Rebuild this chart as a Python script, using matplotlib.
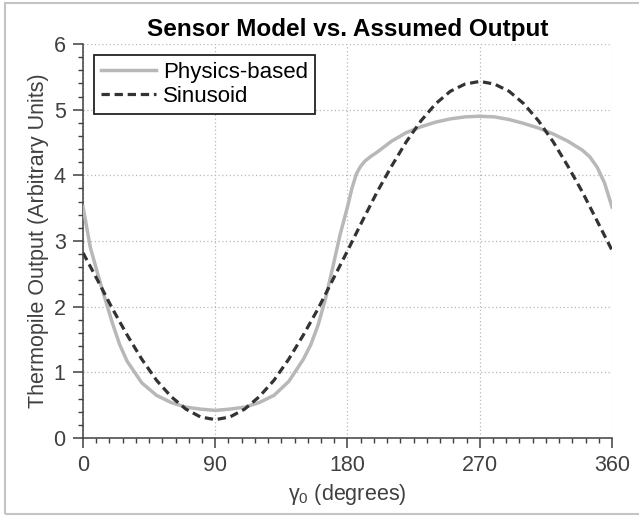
import matplotlib
matplotlib.use("Agg")
import matplotlib.pyplot as plt
from matplotlib.patches import Rectangle
from matplotlib.ticker import MultipleLocator

plt.rcParams['font.family'] = ['Liberation Sans', 'DejaVu Sans']
plt.rcParams['mathtext.default'] = 'regular'

# Angle (degrees) and the two curves
angle_phys = [0, 5, 10, 15, 20, 25, 30, 40, 50, 60, 70, 80, 90, 100, 110, 120,
              130, 140, 150, 155, 160, 165, 170, 175, 180, 183, 186, 189, 192,
              196, 200, 210, 220, 230, 240, 250, 260, 270, 280, 290, 300, 310,
              320, 330, 340, 345, 350, 355, 360]
physics = [3.52, 2.90, 2.50, 2.12, 1.75, 1.42, 1.17, 0.84, 0.65, 0.54, 0.47,
           0.44, 0.42, 0.44, 0.47, 0.54, 0.65, 0.86, 1.20, 1.42, 1.72, 2.12,
           2.60, 3.10, 3.52, 3.80, 4.02, 4.14, 4.22, 4.29, 4.35, 4.52, 4.65,
           4.74, 4.81, 4.86, 4.89, 4.90, 4.89, 4.85, 4.79, 4.72, 4.63, 4.52,
           4.38, 4.28, 4.12, 3.88, 3.52]

angle_sin = [0, 10, 20, 30, 40, 50, 60, 70, 80, 90, 100, 110, 120, 130, 140,
             150, 160, 170, 180, 190, 200, 210, 220, 230, 240, 250, 260, 270,
             280, 290, 300, 310, 320, 330, 340, 350, 360]
sinusoid = [2.82, 2.40, 1.97, 1.57, 1.20, 0.88, 0.63, 0.44, 0.32, 0.28, 0.32,
            0.44, 0.63, 0.88, 1.20, 1.57, 1.97, 2.41, 2.85, 3.30, 3.74, 4.14,
            4.51, 4.83, 5.09, 5.28, 5.39, 5.43, 5.39, 5.28, 5.09, 4.83, 4.51,
            4.14, 3.74, 3.30, 2.86]

x_ticks = [0, 90, 180, 270, 360]
y_ticks = [0, 1, 2, 3, 4, 5, 6]

axcol = '#404040'

fig = plt.figure(figsize=(6.39, 5.17), dpi=100)
ax = fig.add_axes([0.1299, 0.1528, 0.8278, 0.7621])

ax.plot(angle_phys, physics, color='#b8b8b8', lw=2.5, label='Physics-based',
        zorder=3)
ax.plot(angle_sin, sinusoid, color='#333333', lw=2.3,
        linestyle=(0, (2.6, 1.5)), label='Sinusoid', zorder=4)

ax.set_xlim(0, 360)
ax.set_ylim(0, 6)
ax.set_xticks(x_ticks)
ax.set_yticks(y_ticks)
ax.xaxis.set_minor_locator(MultipleLocator(9))
ax.yaxis.set_minor_locator(MultipleLocator(0.2))
ax.tick_params(which='major', direction='out', length=7.5, width=1.1,
               color=axcol, labelcolor=axcol, labelsize=15.5, pad=5)
ax.tick_params(which='minor', direction='out', length=3.6, width=1.0,
               color=axcol)

for s in ['top', 'right']:
    ax.spines[s].set_visible(False)
for s in ['left', 'bottom']:
    ax.spines[s].set_color(axcol)
    ax.spines[s].set_linewidth(1.1)

ax.grid(True, which='major', linestyle=(0, (1, 2)), color='#b8b8b8', lw=0.9)
ax.set_axisbelow(True)

ax.set_title('Sensor Model vs. Assumed Output', fontsize=17.5,
             fontweight='bold', pad=6)
ax.set_xlabel(r'$\gamma_0$ (degrees)', fontsize=15.5, color=axcol, labelpad=4)
ax.set_ylabel('Thermopile Output (Arbitrary Units)', fontsize=15.5,
              color=axcol, labelpad=3)

leg = ax.legend(loc='upper left', fontsize=16, handlelength=2.5,
                borderaxespad=0.5, handletextpad=0.3, labelspacing=0.15,
                borderpad=0.3, fancybox=False, framealpha=1)
leg.get_frame().set_edgecolor('#222222')
leg.get_frame().set_linewidth(1.3)

# light frame around the whole picture
fig.add_artist(Rectangle((5 / 639, 3 / 517), 1.0, 511 / 517,
                         transform=fig.transFigure, fill=False,
                         edgecolor='#c4c4c4', lw=1.5))

fig.savefig('out.png', dpi=100)
